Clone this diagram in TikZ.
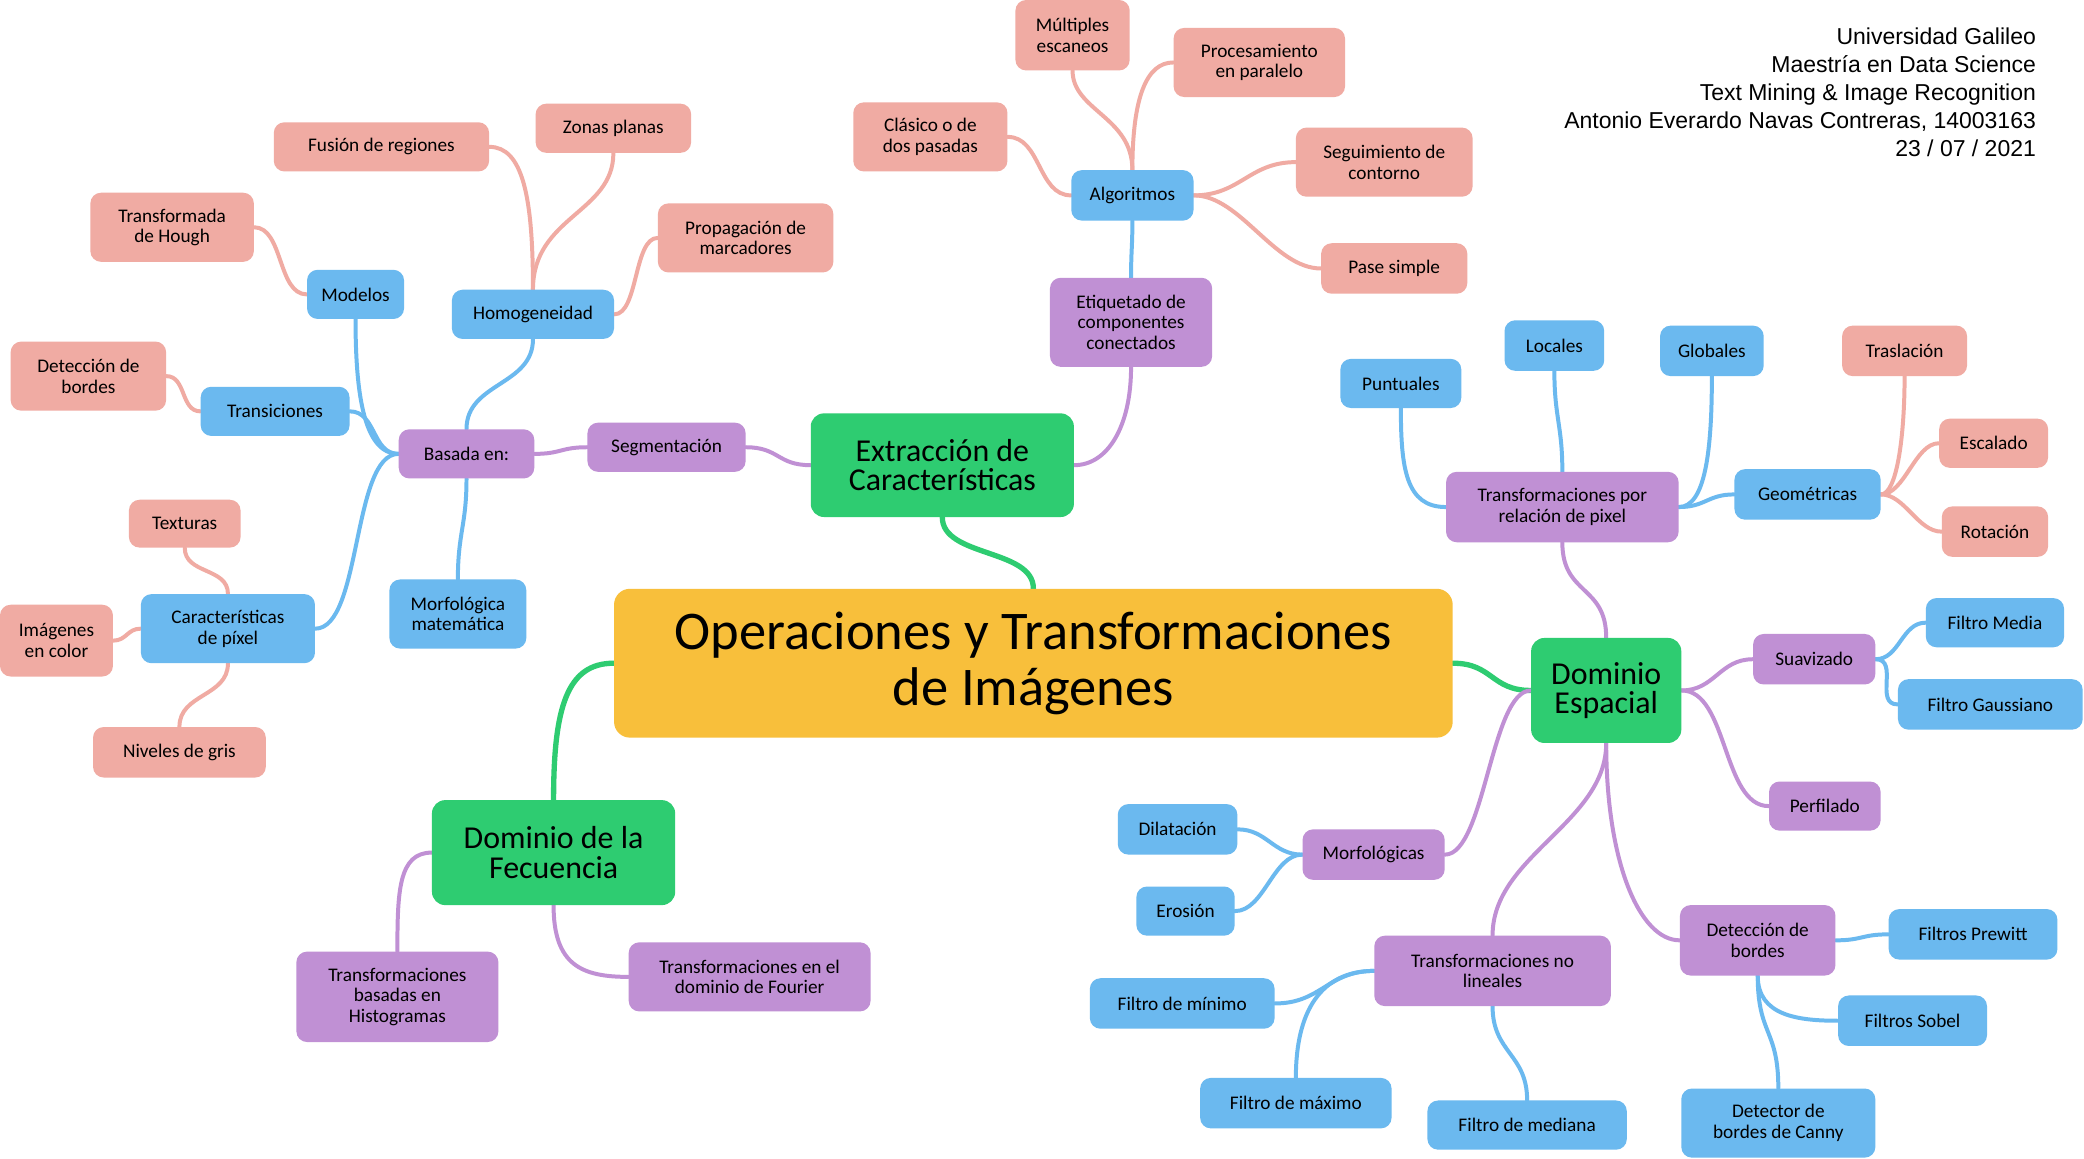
\documentclass[tikz,border=0pt]{standalone}
\usepackage{fontspec}
\setmainfont{Carlito}
\newfontfamily\headfont{Liberation Sans}
\usetikzlibrary{backgrounds}
\definecolor{cyel}{HTML}{F8BF3B}
\definecolor{cgrn}{HTML}{2ECC71}
\definecolor{cpur}{HTML}{C090D4}
\definecolor{cblu}{HTML}{6BB9EF}
\definecolor{csal}{HTML}{F0ABA3}
\tikzset{
  box/.style={rounded corners=8pt, inner sep=0pt, align=center, text=black,
    font=\fontsize{14.5}{15.5}\selectfont},
  pur/.style={box, fill=cpur},
  blu/.style={box, fill=cblu},
  sal/.style={box, fill=csal},
  grn/.style={box, fill=cgrn, rounded corners=10pt, font=\fontsize{24}{22}\selectfont},
  conn/.style={line width=3pt, line cap=round},
  lgrn/.style={conn, cgrn, line width=4pt},
  lpur/.style={conn, cpur},
  lblu/.style={conn, cblu},
  lsal/.style={conn, csal},
}
\newcommand\mmedge[5]{\draw[#1] (#2) .. controls +(#3) and +(#4) .. (#5);}
\begin{document}
\begin{tikzpicture}[x=1pt,y=-1pt]
\useasboundingbox (0,0) rectangle (1568,872);
% central and main branches
\node[box, fill=cyel, rounded corners=12pt, minimum width=631pt, minimum height=112pt,
  font=\fontsize{41}{42}\selectfont] (central) at (777.5,499) {Operaciones y Transformaciones\\de Imágenes};
\node[grn, minimum width=198pt, minimum height=78pt] (extr) at (709,350) {Extracción de\\Características};
\node[grn, minimum width=113pt, minimum height=79pt] (espacial) at (1208.5,519.5) {Dominio\\Espacial};
\node[grn, minimum width=183pt, minimum height=79pt] (frec) at (416.5,641.5) {Dominio de la\\Fecuencia};
% extraccion branch
\node[pur, minimum width=119pt, minimum height=37pt] (segm) at (501.5,336.5) {Segmentación};
\node[pur, minimum width=122pt, minimum height=67pt] (etiq) at (851,242.5) {Etiquetado de\\componentes\\conectados};
\node[pur, minimum width=102pt, minimum height=37pt] (basada) at (351,341.5) {Basada en:};
\node[blu, minimum width=122pt, minimum height=37pt] (homog) at (401,236.5) {Homogeneidad};
\node[blu, minimum width=73pt, minimum height=37pt] (modelos) at (267.5,221.5) {Modelos};
\node[blu, minimum width=112pt, minimum height=37pt] (trans) at (207,309.5) {Transiciones};
\node[blu, minimum width=131pt, minimum height=52pt] (caract) at (171.5,473) {Características\\de píxel};
\node[blu, minimum width=103pt, minimum height=52pt] (morfmat) at (344.5,462) {Morfológica\\matemática};
\node[sal, minimum width=162pt, minimum height=37pt] (fusion) at (287,110.5) {Fusión de regiones};
\node[sal, minimum width=117pt, minimum height=37pt] (zonas) at (461.5,96.5) {Zonas planas};
\node[sal, minimum width=132pt, minimum height=52pt] (propag) at (561,179) {Propagación de\\marcadores};
\node[sal, minimum width=123pt, minimum height=52pt] (hough) at (129.5,171) {Transformada\\de Hough};
\node[sal, minimum width=117pt, minimum height=52pt] (detb) at (66.5,283) {Detección de\\bordes};
\node[sal, minimum width=84pt, minimum height=36pt] (texturas) at (139,394) {Texturas};
\node[sal, minimum width=85pt, minimum height=54pt] (imgcolor) at (42.5,482) {Imágenes\\en color};
\node[sal, minimum width=130pt, minimum height=38pt] (niveles) at (135,566) {Niveles de gris};
\node[blu, minimum width=92pt, minimum height=38pt] (alg) at (852,147) {Algoritmos};
\node[sal, minimum width=86pt, minimum height=53pt] (multiples) at (807,26.5) {Múltiples\\escaneos};
\node[sal, minimum width=129pt, minimum height=52pt] (proc) at (947.5,47) {Procesamiento\\en paralelo};
\node[sal, minimum width=116pt, minimum height=52pt] (clasico) at (700,103) {Clásico o de\\dos pasadas};
\node[sal, minimum width=133pt, minimum height=52pt] (seguim) at (1041.5,122) {Seguimiento de\\contorno};
\node[sal, minimum width=110pt, minimum height=38pt] (pase) at (1049,202) {Pase simple};
% espacial branch
\node[pur, minimum width=175pt, minimum height=53pt] (tpr) at (1175.5,381.5) {Transformaciones por\\relación de pixel};
\node[blu, minimum width=91pt, minimum height=37pt] (puntuales) at (1054,288.5) {Puntuales};
\node[blu, minimum width=75pt, minimum height=38pt] (locales) at (1169.5,260) {Locales};
\node[blu, minimum width=78pt, minimum height=38pt] (globales) at (1288,264) {Globales};
\node[blu, minimum width=110pt, minimum height=38pt] (geom) at (1360,372) {Geométricas};
\node[sal, minimum width=94pt, minimum height=38pt] (traslacion) at (1433,264) {Traslación};
\node[sal, minimum width=82pt, minimum height=37pt] (escalado) at (1500,333.5) {Escalado};
\node[sal, minimum width=80pt, minimum height=38pt] (rotacion) at (1501,400) {Rotación};
\node[pur, minimum width=92pt, minimum height=38pt] (suav) at (1365,496) {Suavizado};
\node[blu, minimum width=104pt, minimum height=37pt] (fmedia) at (1501,468.5) {Filtro Media};
\node[blu, minimum width=139pt, minimum height=38pt] (fgauss) at (1497.5,530) {Filtro Gaussiano};
\node[pur, minimum width=84pt, minimum height=37pt] (perfilado) at (1373,606.5) {Perfilado};
\node[pur, minimum width=107pt, minimum height=38pt] (morfo) at (1033.5,643) {Morfológicas};
\node[blu, minimum width=90pt, minimum height=38pt] (dilat) at (886,624) {Dilatación};
\node[blu, minimum width=74pt, minimum height=37pt] (eros) at (892,685.5) {Erosión};
\node[pur, minimum width=178pt, minimum height=53pt] (tnl) at (1123,730.5) {Transformaciones no\\lineales};
\node[pur, minimum width=117pt, minimum height=53pt] (db) at (1322.5,707.5) {Detección de\\bordes};
\node[blu, minimum width=127pt, minimum height=38pt] (prewitt) at (1484.5,703) {Filtros Prewitt};
\node[blu, minimum width=112pt, minimum height=38pt] (sobel) at (1439,768) {Filtros Sobel};
\node[blu, minimum width=146pt, minimum height=52pt] (canny) at (1338,845) {Detector de\\bordes de Canny};
\node[blu, minimum width=139pt, minimum height=38pt] (fmin) at (889.5,755) {Filtro de mínimo};
\node[blu, minimum width=144pt, minimum height=38pt] (fmax) at (975,830) {Filtro de máximo};
\node[blu, minimum width=150pt, minimum height=37pt] (fmed) at (1149,846.5) {Filtro de mediana};
% frecuencia branch
\node[pur, minimum width=152pt, minimum height=68pt] (tbh) at (299,750) {Transformaciones\\basadas en\\Histogramas};
\node[pur, minimum width=182pt, minimum height=52pt] (tdf) at (564,735) {Transformaciones en el\\dominio de Fourier};
% header
\node[anchor=north east, inner sep=0pt, align=right, font=\headfont\fontsize{17.3}{21}\selectfont]
  (header) at (1532,21) {Universidad Galileo\\Maestría en Data Science\\Text Mining \& Image Recognition\\Antonio Everardo Navas Contreras, 14003163\\23 / 07 / 2021};
\begin{pgfonlayer}{background}
\fill[white] (0,0) rectangle (1568,872);
% green
\mmedge{lgrn}{central.north}{0,-30}{0,30}{extr.south}
\mmedge{lgrn}{central.east}{30,0}{-30,0}{espacial.west}
\mmedge{lgrn}{central.west}{-35,0}{0,-70}{frec.north}
% purple
\mmedge{lpur}{extr.west}{-25,0}{25,0}{segm.east}
\mmedge{lpur}{extr.east}{25,0}{0,45}{etiq.south}
\mmedge{lpur}{segm.west}{-20,0}{20,0}{basada.east}
\mmedge{lpur}{espacial.north}{0,-40}{0,40}{tpr.south}
\mmedge{lpur}{espacial.east}{25,0}{-25,0}{suav.west}
\mmedge{lpur}{espacial.east}{35,0}{-35,0}{perfilado.west}
\mmedge{lpur}{espacial.west}{-30,0}{30,0}{morfo.east}
\mmedge{lpur}{espacial.south}{0,60}{0,-60}{tnl.north}
\mmedge{lpur}{espacial.south}{0,90}{-30,0}{db.west}
\mmedge{lpur}{frec.west}{-25,0}{0,-45}{tbh.north}
\mmedge{lpur}{frec.south}{0,45}{-35,0}{tdf.west}
% blue
\mmedge{lblu}{basada.north}{0,-35}{0,35}{homog.south}
\mmedge{lblu}{basada.west}{-25,0}{0,60}{modelos.south}
\mmedge{lblu}{basada.west}{-20,0}{20,0}{trans.east}
\mmedge{lblu}{basada.west}{-35,0}{35,0}{caract.east}
\mmedge{lblu}{basada.south}{0,35}{0,-35}{morfmat.north}
\mmedge{lblu}{etiq.north}{0,-20}{0,20}{alg.south}
\mmedge{lblu}{tpr.west}{-30,0}{0,45}{puntuales.south}
\mmedge{lblu}{tpr.north}{0,-35}{0,35}{locales.south}
\mmedge{lblu}{tpr.east}{20,0}{0,55}{globales.south}
\mmedge{lblu}{tpr.east}{20,0}{-20,0}{geom.west}
\mmedge{lblu}{suav.east}{18,0}{-18,0}{fmedia.west}
\mmedge{lblu}{suav.east}{18,0}{-18,0}{fgauss.west}
\mmedge{lblu}{morfo.west}{-22,0}{22,0}{dilat.east}
\mmedge{lblu}{morfo.west}{-22,0}{22,0}{eros.east}
\mmedge{lblu}{tnl.west}{-35,0}{35,0}{fmin.east}
\mmedge{lblu}{tnl.west}{-40,0}{0,-50}{fmax.north}
\mmedge{lblu}{tnl.south}{0,35}{0,-35}{fmed.north}
\mmedge{lblu}{db.east}{20,0}{-20,0}{prewitt.west}
\mmedge{lblu}{db.south}{0,30}{-30,0}{sobel.west}
\mmedge{lblu}{db.south}{0,45}{0,-45}{canny.north}
% salmon
\mmedge{lsal}{homog.north}{0,-70}{25,0}{fusion.east}
\mmedge{lsal}{homog.north}{0,-55}{0,45}{zonas.south}
\mmedge{lsal}{homog.east}{18,0}{-18,0}{propag.west}
\mmedge{lsal}{modelos.west}{-22,0}{22,0}{hough.east}
\mmedge{lsal}{trans.west}{-15,0}{15,0}{detb.east}
\mmedge{lsal}{caract.north}{0,-20}{0,20}{texturas.south}
\mmedge{lsal}{caract.west}{-10,0}{10,0}{imgcolor.east}
\mmedge{lsal}{caract.south}{0,25}{0,-25}{niveles.north}
\mmedge{lsal}{alg.north}{0,-40}{0,30}{multiples.south}
\mmedge{lsal}{alg.north}{0,-55}{-20,0}{proc.west}
\mmedge{lsal}{alg.west}{-25,0}{25,0}{clasico.east}
\mmedge{lsal}{alg.east}{35,0}{-35,0}{seguim.west}
\mmedge{lsal}{alg.east}{35,0}{-35,0}{pase.west}
\mmedge{lsal}{geom.east}{12,0}{0,45}{traslacion.south}
\mmedge{lsal}{geom.east}{18,0}{-18,0}{escalado.west}
\mmedge{lsal}{geom.east}{18,0}{-18,0}{rotacion.west}
\end{pgfonlayer}
\end{tikzpicture}
\end{document}
